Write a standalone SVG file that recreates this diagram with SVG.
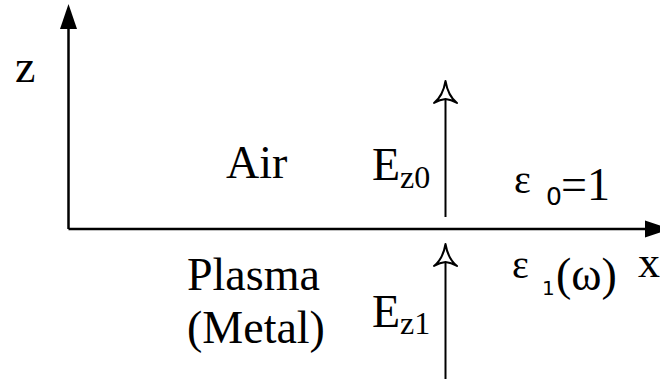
<svg xmlns="http://www.w3.org/2000/svg" width="660" height="381" viewBox="0 0 660 381">
<style>
text{fill:#000}
.t{font-family:'Liberation Serif','DejaVu Serif',serif}
.s{font-family:'DejaVu Sans','Liberation Sans',sans-serif}
.ax{stroke:#000;stroke-width:2.5;fill:none}
.sh{stroke:#000;stroke-width:2;fill:none}
.ah{stroke:#000;stroke-width:2;fill:#fff;stroke-linejoin:round}
</style>
<rect width="660" height="381" fill="#fff"/>
<g id="connectors">
<g id="z-axis">
<line class="ax" x1="68.5" y1="229" x2="68.5" y2="27"/>
<polygon points="68.5,4 60,29 77,29" fill="#000"/>
</g>
<g id="x-axis">
<line class="ax" x1="68.5" y1="229" x2="647" y2="229"/>
<polygon points="670,229 645,220.5 645,237.5" fill="#000"/>
</g>
<g id="ez0-arrow">
<line class="sh" x1="445.5" y1="217" x2="445.5" y2="99"/>
<path class="ah" d="M445.5,81 Q443,96 434,103 Q440,99.5 445.5,99 Q451,99.5 457,103 Q448,96 445.5,81 Z"/>
</g>
<g id="ez1-arrow">
<line class="sh" x1="445.5" y1="379" x2="445.5" y2="262"/>
<path class="ah" d="M445.5,244 Q443,259 434,266 Q440,262.5 445.5,262 Q451,262.5 457,266 Q448,259 445.5,244 Z"/>
</g>
</g>
<g id="label-z"><text class="t" x="15" y="82" font-size="46">z</text></g>
<g id="label-x"><text class="t" x="638" y="277" font-size="44">x</text></g>
<g id="air"><text class="t" x="226" y="178" font-size="46">Air</text></g>
<g id="plasma">
<text class="t" x="187" y="290" font-size="46">Plasma</text>
<text class="t" x="187" y="343" font-size="46">(Metal)</text>
</g>
<g id="ez0">
<text class="t" x="372" y="180" font-size="46">E</text>
<text class="t" x="400" y="188" font-size="32">z0</text>
</g>
<g id="ez1">
<text class="t" x="372" y="327" font-size="46">E</text>
<text class="t" x="400" y="334" font-size="32">z1</text>
</g>
<g id="eps0">
<text class="t" x="514" y="193" font-size="40">ε</text>
<text class="s" x="546" y="205" font-size="25">0</text>
<text class="t" x="561" y="200" font-size="46">=1</text>
</g>
<g id="eps1">
<text class="t" x="512" y="278" font-size="40">ε</text>
<text class="s" x="542" y="295" font-size="20">1</text>
<text class="t" x="556" y="290" font-size="46">(ω)</text>
</g>
</svg>
